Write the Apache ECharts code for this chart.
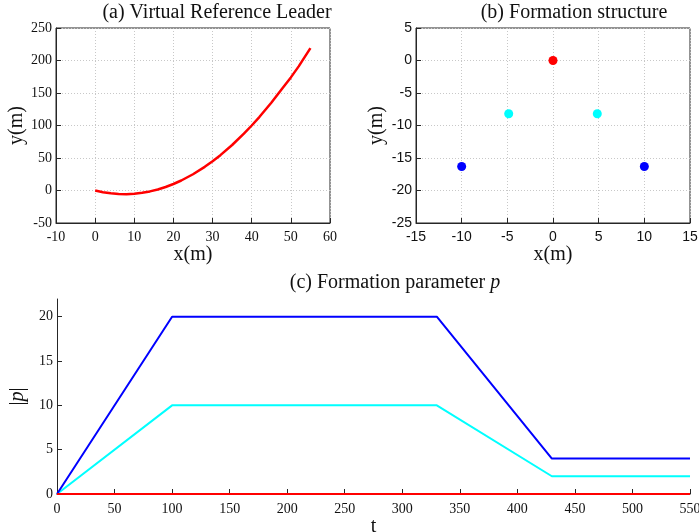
<!DOCTYPE html>
<html>
<head>
<meta charset="utf-8">
<script src="https://cdn.jsdelivr.net/npm/echarts@6/dist/echarts.min.js"></script>
<style>html,body{margin:0;padding:0;background:#fff}#c{width:699px;height:532px}</style>
</head>
<body>
<div id="c"></div>
<script>
// (a) Virtual reference leader trajectory
const leaderX = [0, 2, 4, 6, 8, 10, 12, 14, 16, 18, 20, 22, 25, 28, 30, 32, 35, 38, 40, 42, 45, 48, 50, 52, 55];
const leaderY = [0, -2.6, -4.4, -5.4, -5.6, -5, -3.6, -1.4, 1.6, 5.4, 10, 15.4, 25, 36.4, 45, 54.4, 70, 87.4, 100, 113.4, 135, 158.4, 174, 191, 219];
// (b) Formation structure
const centerX = [0], centerY = [0];
const innerX = [-4.85, 4.85], innerY = [-8.2, -8.2];
const outerX = [-10, 10], outerY = [-16.3, -16.3];
// (c) Formation parameter |p|
const tVals = [0, 100, 330, 430, 550];
const pOuter = [0, 20, 20, 4, 4];
const pInner = [0, 10, 10, 2, 2];
const pCenter = [0, 0, 0, 0, 0];

const zip = (a, b) => a.map((v, i) => [v, b[i]]);
const serif = 'Liberation Serif';
const sans = 'Liberation Sans';
const axisColor = '#262626';
const textColor = '#111';
const split = { show: true, lineStyle: { color: '#c8c8c8', type: [1, 2], width: 1 } };

function mkAxis(opts) {
  return Object.assign({
    type: 'value',
    nameLocation: 'middle',
    axisLine: { show: true, onZero: false, lineStyle: { color: axisColor, width: 1 } },
    axisTick: { show: true, inside: true, length: 5, lineStyle: { color: axisColor } },
    splitLine: { show: false }
  }, opts);
}

const chart = echarts.init(document.getElementById('c'), null, { renderer: 'canvas' });
chart.setOption({
  animation: false,
  backgroundColor: '#fff',
  graphic: [
    { type: 'text', x: 217, y: 13, style: { text: '(a) Virtual Reference Leader', font: '20px "Liberation Serif"', fill: textColor, textAlign: 'center', textVerticalAlign: 'middle' } },
    { type: 'text', x: 574, y: 13, style: { text: '(b) Formation structure', font: '20px "Liberation Serif"', fill: textColor, textAlign: 'center', textVerticalAlign: 'middle' } },
    { type: 'text', x: 395, y: 283, style: { text: '(c) Formation parameter {i|p}', font: '20px "Liberation Serif"', fill: textColor, textAlign: 'center', textVerticalAlign: 'middle', rich: { i: { fontStyle: 'italic', fontFamily: serif, fontSize: 20, fill: textColor } } } }
  ],
  grid: [
    { left: 56, top: 28, width: 274, height: 195, show: true, borderColor: axisColor, borderWidth: 1, backgroundColor: 'transparent', outerBoundsMode: 'none', containLabel: false },
    { left: 416, top: 28, width: 274, height: 195, show: true, borderColor: axisColor, borderWidth: 1, backgroundColor: 'transparent', outerBoundsMode: 'none', containLabel: false },
    { left: 57, top: 299, width: 633, height: 195, show: false, outerBoundsMode: 'none', containLabel: false }
  ],
  xAxis: [
    mkAxis({ gridIndex: 0, min: -10, max: 60, interval: 10, name: 'x(m)', nameGap: 22,
      nameTextStyle: { fontFamily: serif, fontSize: 20, color: textColor },
      axisLabel: { fontFamily: serif, fontSize: 14, color: textColor, margin: 7 },
      splitLine: split }),
    mkAxis({ gridIndex: 1, min: -15, max: 15, interval: 5, name: 'x(m)', nameGap: 22,
      nameTextStyle: { fontFamily: serif, fontSize: 20, color: textColor },
      axisLabel: { fontFamily: sans, fontSize: 14, color: textColor, margin: 7 },
      splitLine: split }),
    mkAxis({ gridIndex: 2, min: 0, max: 550, interval: 50, name: 't', nameGap: 20,
      nameTextStyle: { fontFamily: serif, fontSize: 20, color: textColor },
      axisLabel: { fontFamily: serif, fontSize: 14, color: textColor, margin: 8 } })
  ],
  yAxis: [
    mkAxis({ gridIndex: 0, min: -50, max: 250, interval: 50, name: 'y(m)', nameGap: 29,
      nameTextStyle: { fontFamily: serif, fontSize: 20, color: textColor },
      axisLabel: { fontFamily: serif, fontSize: 14, color: textColor, margin: 4 },
      splitLine: split }),
    mkAxis({ gridIndex: 1, min: -25, max: 5, interval: 5, name: 'y(m)', nameGap: 29,
      nameTextStyle: { fontFamily: serif, fontSize: 20, color: textColor },
      axisLabel: { fontFamily: sans, fontSize: 14, color: textColor, margin: 4 },
      splitLine: split }),
    mkAxis({ gridIndex: 2, min: 0, max: 22, interval: 5, name: '|{i|p}|', nameGap: 28,
      nameTextStyle: { fontFamily: serif, fontSize: 20, color: textColor, rich: { i: { fontStyle: 'italic', fontFamily: serif, fontSize: 20, color: textColor } } },
      axisLabel: { fontFamily: serif, fontSize: 14, color: textColor, margin: 4, customValues: [0, 5, 10, 15, 20] },
      axisTick: { show: true, inside: true, length: 5, lineStyle: { color: axisColor }, customValues: [0, 5, 10, 15, 20] } })
  ],
  series: [
    { type: 'line', xAxisIndex: 0, yAxisIndex: 0, data: zip(leaderX, leaderY), smooth: false, showSymbol: false, lineStyle: { color: '#ff0000', width: 2.5 } },
    { type: 'scatter', xAxisIndex: 1, yAxisIndex: 1, data: zip(centerX, centerY), symbolSize: 9, itemStyle: { color: '#ff0000', opacity: 1 } },
    { type: 'scatter', xAxisIndex: 1, yAxisIndex: 1, data: zip(innerX, innerY), symbolSize: 9, itemStyle: { color: '#00ffff', opacity: 1 } },
    { type: 'scatter', xAxisIndex: 1, yAxisIndex: 1, data: zip(outerX, outerY), symbolSize: 9, itemStyle: { color: '#0000ff', opacity: 1 } },
    { type: 'line', xAxisIndex: 2, yAxisIndex: 2, data: zip(tVals, pInner), showSymbol: false, lineStyle: { color: '#00ffff', width: 2 } },
    { type: 'line', xAxisIndex: 2, yAxisIndex: 2, data: zip(tVals, pOuter), showSymbol: false, lineStyle: { color: '#0000ff', width: 2 } },
    { type: 'line', xAxisIndex: 2, yAxisIndex: 2, data: zip(tVals, pCenter), showSymbol: false, lineStyle: { color: '#ff0000', width: 2 } }
  ]
});
</script>
</body>
</html>
